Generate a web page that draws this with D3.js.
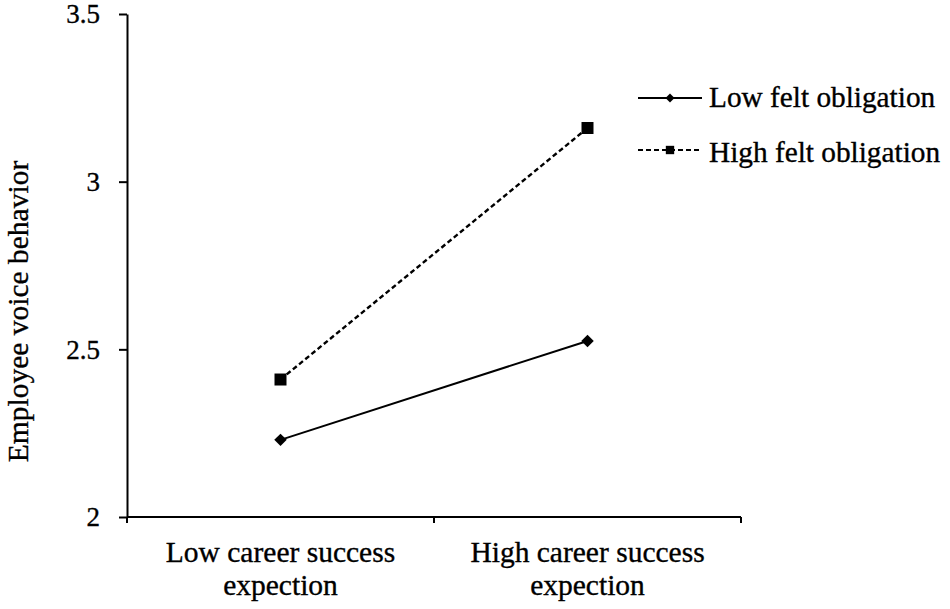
<!DOCTYPE html>
<html>
<head>
<meta charset="utf-8">
<script src="https://cdn.jsdelivr.net/npm/d3@7"></script>
<style>
  html, body { margin: 0; padding: 0; background: #fff; }
  svg { display: block; }
  text { font-family: "Liberation Serif", "Times New Roman", serif !important; fill: #000; stroke: #000; stroke-width: 0.35px; }
</style>
</head>
<body>
<svg id="chart" width="950" height="609"></svg>
<script>
const categories = ["Low career success|expection", "High career success|expection"];
const seriesNames = ["Low felt obligation", "High felt obligation"];
const lowFelt = [2.23, 2.525];
const highFelt = [2.41, 3.16];
const yTicks = [2, 2.5, 3, 3.5];
const yTickLabels = ["2", "2.5", "3", "3.5"];
const yTitle = "Employee voice behavior";

const svg = d3.select("#chart");
const mLeft = 127, mRight = 741, mTop = 14, mBottom = 517;

const x = d3.scaleBand().domain(categories).range([mLeft, mRight]);
const y = d3.scaleLinear().domain([2, 3.5]).range([mBottom, mTop]);

// Y axis
const yAxis = d3.axisLeft(y).tickValues(yTicks)
  .tickFormat((d, i) => yTickLabels[i]).tickSizeInner(8).tickSizeOuter(0).tickPadding(19);
const gy = svg.append("g").attr("transform", `translate(${mLeft},0)`).call(yAxis);
gy.attr("font-family", null);
gy.select(".domain").attr("stroke", "#000").attr("stroke-width", 2);
gy.selectAll(".tick line").attr("stroke", "#000").attr("stroke-width", 2);
gy.selectAll(".tick text").attr("font-size", 27).attr("dy", "0.33em");

// X axis
const xAxis = d3.axisBottom(x).tickSize(0).tickFormat("");
const gx = svg.append("g").attr("transform", `translate(0,${mBottom})`).call(xAxis);
gx.select(".domain").attr("stroke", "#000").attr("stroke-width", 2).attr("d", `M${mLeft},0H${mRight}`);
const bounds = [mLeft, mLeft + x.bandwidth(), mRight];
gx.selectAll(".btick").data(bounds).enter().append("line")
  .attr("x1", d => d).attr("x2", d => d).attr("y1", 0).attr("y2", 6)
  .attr("stroke", "#000").attr("stroke-width", 2);

// category labels
categories.forEach(c => {
  const lines = c.split("|");
  const t = svg.append("text")
    .attr("x", x(c) + x.bandwidth() / 2)
    .attr("y", 562)
    .attr("text-anchor", "middle")
    .attr("font-size", 29.5);
  lines.forEach((l, i) => {
    t.append("tspan").attr("x", x(c) + x.bandwidth() / 2).attr("dy", i === 0 ? 0 : 33).text(l);
  });
});

// Y title
svg.append("text")
  .attr("transform", `translate(28,${(160 + 463) / 2}) rotate(-90)`)
  .attr("text-anchor", "middle")
  .attr("font-size", 29.5)
  .text(yTitle);

const cx = d => x(d) + x.bandwidth() / 2;
const line = d3.line().x(d => cx(d.c)).y(d => y(d.v));

const lowData = categories.map((c, i) => ({ c, v: lowFelt[i] }));
const highData = categories.map((c, i) => ({ c, v: highFelt[i] }));

svg.append("path").datum(lowData).attr("d", line)
  .attr("fill", "none").attr("stroke", "#000").attr("stroke-width", 2);
svg.append("path").datum(highData).attr("d", line)
  .attr("fill", "none").attr("stroke", "#000").attr("stroke-width", 2.4).attr("stroke-dasharray", "5,3");

const diamond = d3.symbol().type(d3.symbolSquare).size(78);
const square = d3.symbol().type(d3.symbolSquare).size(144);

svg.selectAll(".dlow").data(lowData).enter().append("path")
  .attr("d", diamond).attr("transform", d => `translate(${cx(d.c)},${y(d.v)}) rotate(45)`).attr("fill", "#000");
svg.selectAll(".shigh").data(highData).enter().append("path")
  .attr("d", square).attr("transform", d => `translate(${cx(d.c)},${y(d.v)})`).attr("fill", "#000");

// Legend
const legend = [
  { name: seriesNames[0], ly: 98, ty: 107, dash: null, sym: d3.symbol().type(d3.symbolSquare).size(40), rot: 45 },
  { name: seriesNames[1], ly: 150, ty: 162, dash: "5,3", sym: d3.symbol().type(d3.symbolSquare).size(70), rot: 0 }
];
legend.forEach(l => {
  svg.append("line").attr("x1", 638).attr("x2", 702).attr("y1", l.ly).attr("y2", l.ly)
    .attr("stroke", "#000").attr("stroke-width", 2).attr("stroke-dasharray", l.dash);
  svg.append("path").attr("d", l.sym).attr("transform", `translate(670,${l.ly}) rotate(${l.rot})`).attr("fill", "#000");
  svg.append("text").attr("x", 709).attr("y", l.ty).attr("font-size", 29.3).text(l.name);
});
</script>
</body>
</html>
